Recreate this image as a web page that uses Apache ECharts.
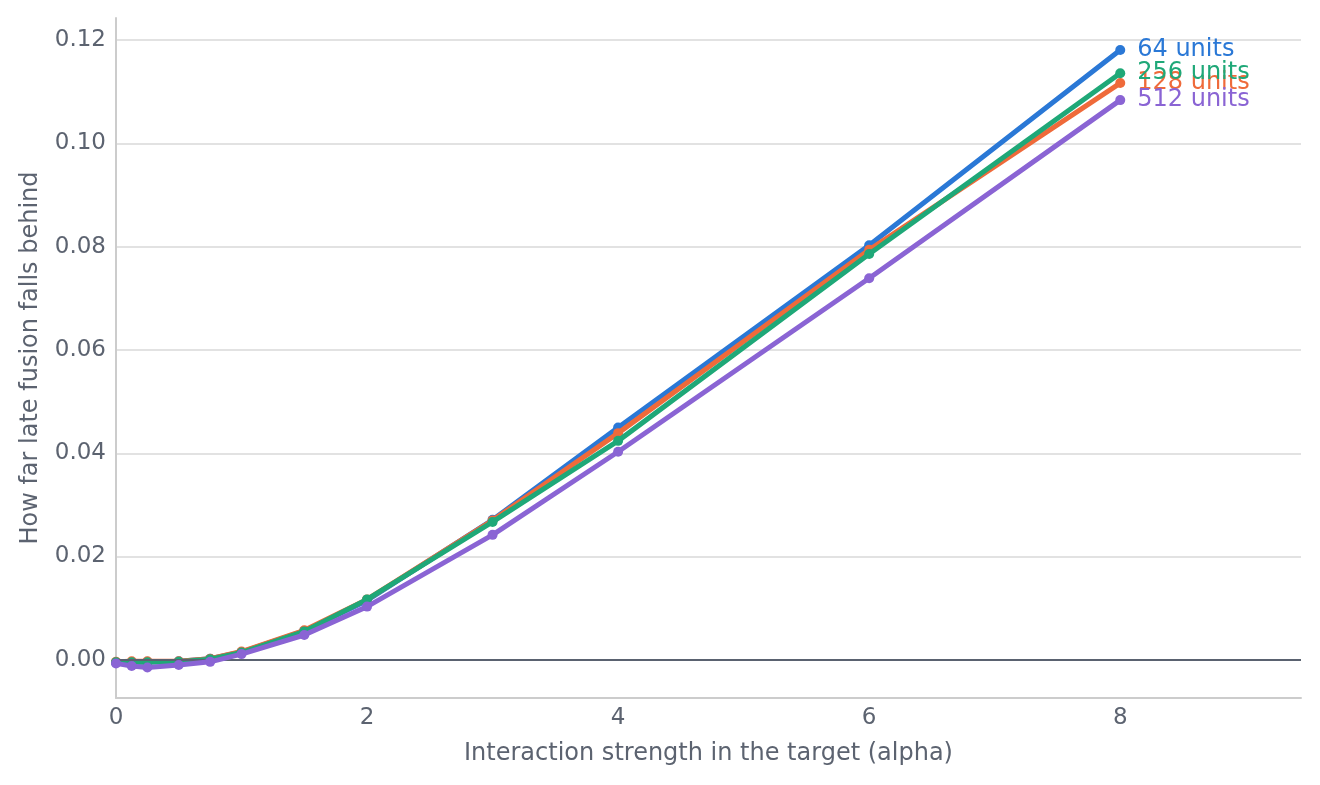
<!DOCTYPE html>
<html style="height: 100%">
   <head>
       <meta charset="utf-8">
   </head>
   <body style="height: 100%; margin: 0; background: #fff">
       <div id="container" style="width: 1320px; height: 785px"></div>
       <script type="text/javascript" src="https://cdn.jsdelivr.net/npm/echarts@6/dist/echarts.min.js"></script>
       <script type="text/javascript">
var dom = document.getElementById("container");
var myChart = echarts.init(dom);

// interaction strength (alpha)
var alphas = [0, 0.125, 0.25, 0.5, 0.75, 1, 1.5, 2, 3, 4, 6, 8];

var names = ['64 units', '128 units', '256 units', '512 units'];
var colors = ['#2a78d6', '#ef6a3a', '#1fa878', '#8a64d4'];

var gap64  = [-0.0005, -0.0005, -0.0004, -0.0003, 0.0002, 0.0015, 0.0056, 0.0115, 0.0271, 0.0450, 0.0803, 0.1181];
var gap128 = [-0.0004, -0.0003, -0.0003, -0.0003, 0.0002, 0.0016, 0.0057, 0.0117, 0.0270, 0.0439, 0.0794, 0.1117];
var gap256 = [-0.0005, -0.0005, -0.0005, -0.0004, 0.0001, 0.0014, 0.0055, 0.0117, 0.0267, 0.0424, 0.0786, 0.1136];
var gap512 = [-0.0007, -0.0012, -0.0015, -0.0010, -0.0004, 0.0011, 0.0048, 0.0103, 0.0242, 0.0403, 0.0739, 0.1084];

var allGaps = [gap64, gap128, gap256, gap512];

var textColor = '#5c6370';
var font = 'DejaVu Sans';

function pairs(ys) {
    return alphas.map(function (x, i) { return [x, ys[i]]; });
}

var series = allGaps.map(function (ys, k) {
    return {
        name: names[k],
        type: 'line',
        data: pairs(ys),
        symbol: 'circle',
        symbolSize: 10,
        lineStyle: {width: 5, color: colors[k]},
        itemStyle: {color: colors[k]},
        z: 2 + k,
        endLabel: {
            show: true,
            formatter: '{a}',
            color: colors[k],
            fontSize: 24,
            fontFamily: font,
            distance: 17
        }
    };
});

// zero reference line on top of the curves
series.push({
    type: 'line',
    data: [],
    z: 20,
    markLine: {
        silent: true,
        symbol: 'none',
        label: {show: false},
        lineStyle: {color: '#5a6270', width: 2, type: 'solid'},
        data: [{yAxis: 0}]
    }
});

var option = {
    animation: false,
    grid: {
        left: 116,
        right: 19,
        top: 18,
        bottom: 87
    },
    xAxis: {
        type: 'value',
        min: 0,
        max: 9.44,
        interval: 2,
        name: 'Interaction strength in the target (alpha)',
        nameLocation: 'middle',
        nameGap: 44,
        nameTextStyle: {color: textColor, fontSize: 24, fontFamily: font},
        axisLine: {show: true, onZero: false, lineStyle: {color: '#cccccc', width: 2}},
        axisTick: {show: false},
        splitLine: {show: false},
        axisLabel: {color: textColor, fontSize: 23, fontFamily: font, margin: 9, showMaxLabel: false}
    },
    yAxis: {
        type: 'value',
        min: -0.0074,
        max: 0.1243,
        splitNumber: 6,
        name: 'How far late fusion falls behind',
        nameLocation: 'middle',
        nameGap: 73,
        nameTextStyle: {color: textColor, fontSize: 24, fontFamily: font},
        axisLine: {show: true, onZero: false, lineStyle: {color: '#cccccc', width: 2}},
        axisTick: {show: false},
        splitLine: {show: true, showMinLine: false, showMaxLine: false, lineStyle: {color: '#e2e2e2', width: 2}},
        axisLabel: {
            color: textColor, fontSize: 23, fontFamily: font, margin: 10,
            showMinLabel: false, showMaxLabel: false,
            formatter: function (v) { return v.toFixed(2); }
        }
    },
    series: series
};

myChart.setOption(option, true);
       </script>
   </body>
</html>
